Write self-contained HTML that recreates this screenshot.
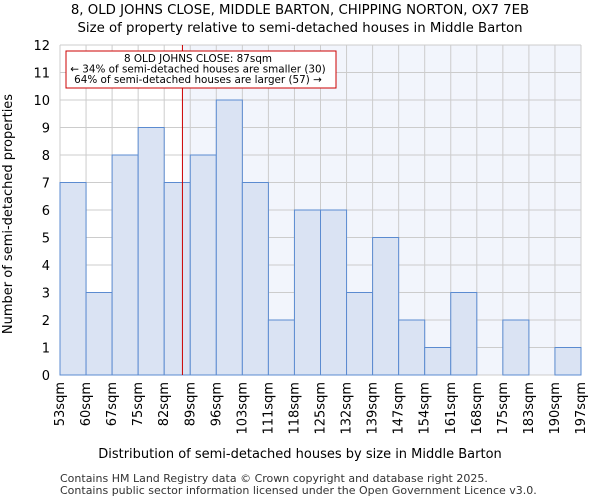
<!DOCTYPE html>
<html><head><meta charset="utf-8"><style>
body{margin:0;background:#fff;font-family:"DejaVu Sans","Liberation Sans",sans-serif}
</style></head><body>
<svg id="c" width="600" height="500" xmlns="http://www.w3.org/2000/svg" font-family="DejaVu Sans, Liberation Sans, sans-serif">
<text x="300" y="14" text-anchor="middle" font-size="13.3">8, OLD JOHNS CLOSE, MIDDLE BARTON, CHIPPING NORTON, OX7 7EB</text>
<text x="300" y="32" text-anchor="middle" font-size="13.3">Size of property relative to semi-detached houses in Middle Barton</text>
<g id="plot"></g>
<text x="300" y="458" text-anchor="middle" font-size="13">Distribution of semi-detached houses by size in Middle Barton</text>
<text x="12" y="214" text-anchor="middle" font-size="13" transform="rotate(-90 12 214)">Number of semi-detached properties</text>
<text x="60" y="482" font-size="11" fill="#333">Contains HM Land Registry data © Crown copyright and database right 2025.</text>
<text x="60" y="494" font-size="11" fill="#333">Contains public sector information licensed under the Open Government Licence v3.0.</text>
</svg>
<script>
const labels=["53sqm","60sqm","67sqm","75sqm","82sqm","89sqm","96sqm","103sqm","111sqm","118sqm","125sqm","132sqm","139sqm","147sqm","154sqm","161sqm","168sqm","175sqm","183sqm","190sqm","197sqm"];
const counts=[7,3,8,9,7,8,10,7,2,6,6,3,5,2,1,3,0,2,0,1];
const yTicks=[0,1,2,3,4,5,6,7,8,9,10,11,12];
const markerBin=4.7;
const NS="http://www.w3.org/2000/svg";
const L=60,R=581,T=45,B=375,n=counts.length;
const x=i=>L+(R-L)*i/n;
const y=v=>B-(B-T)*v/12;
const g=document.getElementById('plot');
function mk(tag,a){const e=document.createElementNS(NS,tag);for(const k in a)e.setAttribute(k,a[k]);g.appendChild(e);return e;}
const mx=x(markerBin);
let e=mk('rect',{x:mx,y:T,width:R-mx,height:B-T,fill:'#f2f5fc'});


for(let i=0;i<=n;i++){e=mk('line',{x1:x(i),x2:x(i),y1:T,y2:B,stroke:'#ccc','stroke-width':1});

}
yTicks.forEach(v=>{e=mk('line',{x1:L,x2:R,y1:y(v),y2:y(v),stroke:'#ccc','stroke-width':1});


e=mk('text',{x:L-10,y:y(v)+5,'text-anchor':'end','font-size':13});e.textContent=v;

});
counts.forEach((c,i)=>{if(c>0){e=mk('rect',{x:x(i),y:y(c),width:x(i+1)-x(i),height:B-y(c),fill:'#dae3f3',stroke:'#5b8bd0','stroke-width':1});

}});
labels.forEach((s,i)=>{const xx=x(i)+4;e=mk('text',{x:xx,y:382,'text-anchor':'end','font-size':13,transform:`rotate(-90 ${xx} 382)`});e.textContent=s;

});
e=mk('line',{x1:mx,x2:mx,y1:T,y2:B,stroke:'#c00','stroke-width':1});


e=mk('rect',{x:66,y:51,width:270,height:37,fill:'#fff',stroke:'#c00','stroke-width':1});


["8 OLD JOHNS CLOSE: 87sqm","← 34% of semi-detached houses are smaller (30)","64% of semi-detached houses are larger (57) →"].forEach((t,i)=>{e=mk('text',{x:198,y:62+i*10.5,'text-anchor':'middle','font-size':10.4});e.textContent=t;

});
</script>
</body></html>
